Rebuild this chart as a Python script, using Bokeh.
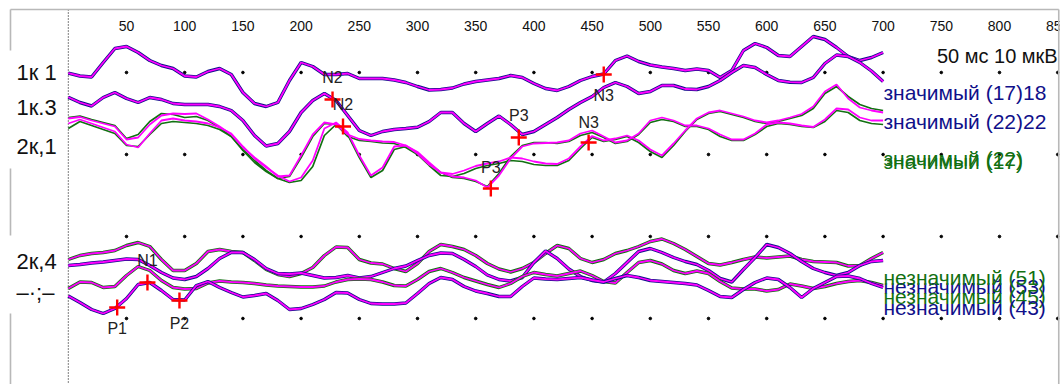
from bokeh.plotting import figure
from bokeh.models import Range1d
from bokeh.core.properties import value
from bokeh.embed import file_html
from bokeh.resources import INLINE

FONT = "Liberation Sans"
NAVY = "#10108a"
GREEN = "#127012"
MAG = "#ff00ff"

# sampling grid, ms
t_ms = list(range(0, 701, 10))

# vertical position of each curve (reference rows, larger = lower)
ch_1k1 = [72.7, 75.5, 76.5, 62, 48, 46, 52, 60, 65, 68, 75.5, 76.5, 71, 68, 74, 92, 103, 106, 102, 80,
          62, 66, 74, 74, 73, 78, 78, 78, 79.5, 82, 86, 89.5, 89, 87.5, 83.5, 81, 79.5, 78, 75, 77,
          83, 88, 90, 86, 80, 76, 73.5, 60, 55.5, 61, 64.5, 66.5, 68, 70, 68.5, 70, 77, 70, 50, 43,
          47, 55, 56, 46, 36, 39, 47, 56, 60, 57, 52]
ch_1k3 = [96.7, 102, 105.5, 97, 92, 98, 102, 97, 99, 103, 104, 104, 104, 106, 110, 120, 135, 145.5, 143, 131,
          112, 100, 93, 100, 115, 130, 135, 131, 129, 128, 126.7, 121, 112, 112, 123, 131, 123, 115.5, 124, 134,
          131, 124, 117, 109, 102, 96, 87, 82, 86, 93, 91, 85, 85, 88.5, 89, 86, 80, 72, 65, 67,
          74, 80, 81.7, 82, 77, 63, 54.5, 56, 62, 70.5, 81]
ch_2k1_a_mag = [118, 116.5, 120, 123, 126, 139, 137, 124, 115, 113, 113.5, 113, 119, 126, 134, 147, 157, 166, 176, 175,
                155, 134, 122, 124, 134, 138.5, 140, 141, 141.5, 145, 151.5, 162, 172, 173.5, 170, 165.5, 163, 161, 157, 158,
                161, 163, 163.5, 158, 146, 135.5, 140, 138, 135, 140, 149, 155, 143, 130, 118, 112, 110, 113, 116, 120,
                122, 120, 117, 113.5, 106, 91, 84, 98, 107, 110, 112]
ch_2k1_a_grn = [117, 115.5, 119, 122, 125, 138, 134, 121, 113, 114, 117, 116, 120, 127, 136, 149, 160, 170, 178, 176,
                157, 136, 123, 124, 136, 140, 141, 142.5, 143, 147, 154, 165, 175, 176, 173, 168, 165, 163, 160, 161,
                164, 165, 165, 160, 148, 137, 141, 139, 136, 142, 151, 157, 145, 131, 119, 113, 111, 114, 117, 121,
                123, 121, 118, 115, 108, 93, 86, 96, 104, 108, 110]
ch_2k1_b_mag = [123, 119, 123, 127, 131, 144, 147, 133, 120, 118, 120, 121, 123, 127, 133, 146, 158, 167, 175, 181,
                177, 160, 128, 122, 132, 155, 175, 167, 146, 145, 153, 164, 172, 176, 177, 180, 187, 175, 158, 146,
                143, 142.5, 142, 140, 133, 130, 136, 142, 140, 133, 120, 117, 120, 125, 125, 128, 134, 139, 139, 133,
                124, 122, 123, 125, 126.5, 119, 108, 109, 117, 120, 120]
ch_2k1_b_grn = [128, 121, 125, 129, 133, 145, 146, 134, 123, 121, 122, 123, 125, 129, 136, 150, 162, 171, 178, 182,
                180, 166, 135, 124, 134, 157, 177, 170, 149, 146, 152, 163, 172, 177, 178, 181, 186, 173, 156, 145,
                142, 142, 143, 141, 135, 132, 137, 143, 141, 134, 122, 119, 121, 126, 126, 129, 136, 140, 140, 134,
                126, 123, 124, 126, 127, 121, 110, 112, 120, 123, 124]
ch_ns_1 = [259, 255, 253, 252, 250, 245, 242, 246, 259, 270, 270, 263, 251, 249, 251, 252, 260, 269, 274, 276,
           273, 267, 255, 246.5, 247, 259, 262.5, 263.5, 268, 271, 263, 251, 244, 246, 249, 255, 263, 268.5, 271.5, 268,
           262, 253, 245, 248, 258, 262, 259, 253, 250, 246, 241, 238.5, 243, 249, 256, 263, 264.5, 262, 259, 256.5,
           257.5, 256.5, 255.5, 259, 261, 261.5, 262, 265.5, 265, 258, 252]
ch_ns_2 = [265, 264, 262.5, 261.5, 260, 258.5, 259, 265, 272, 277.5, 279, 276, 268, 258, 252, 252, 259, 268, 273, 273.5,
           272.5, 275, 277.5, 277, 275, 277.5, 276, 272, 268, 265.5, 260, 255, 252.5, 253, 259, 266, 274.5, 279, 280.5, 277,
           262, 250.5, 258, 268.5, 276, 280, 281.5, 273, 262, 251, 248, 252, 257, 261, 264, 270, 278, 281.5, 269, 257,
           244, 247, 253, 261, 268, 272, 275, 272, 265, 261, 260]
ch_ns_3 = [288, 281.5, 282, 287, 286, 275, 266, 270, 280, 287, 288.5, 288, 282.5, 280.5, 281.5, 282, 283, 284.5, 285.5, 286,
           286.5, 286.5, 285.5, 281.5, 279, 278.5, 279, 281.5, 285, 285.5, 279, 271, 268, 272, 277, 280.5, 284, 287, 283, 276,
           272, 274, 275.5, 273, 270.5, 275, 281, 282.5, 272, 262, 260, 263.5, 270, 273, 270.5, 273, 281, 287.5, 288.5, 288.5,
           290.5, 289, 283.5, 285.5, 288, 286, 283, 281, 280, 282, 285]
ch_ns_4 = [295.5, 302, 309, 313, 308, 298, 284, 282, 290, 299, 299.5, 285, 281, 287, 292, 296.5, 295, 293, 300, 309,
           308, 304, 299, 292, 292.5, 299, 303, 303.5, 303.5, 302.5, 293, 283, 277, 279, 286, 290.5, 293, 296, 296, 286,
           277.5, 278.5, 279, 278, 277, 279.5, 281.5, 278, 275, 277, 280, 281, 282, 283, 284.5, 290, 296, 297, 289, 282,
           277.5, 279, 287, 297, 288, 282, 276, 275.5, 278, 283, 287]

peak_names = ["P1", "N1", "P2", "N2", "N2", "P3", "P3", "N3", "N3"]
peak_lat = [42, 68, 95.5, 227, 236, 363, 387, 447, 460]
peak_amp = [307, 282, 300, 99, 126, 188, 137, 142, 74]
peak_label_dy = [21, -22, 23, -22, -22, -21, -22, -20, 21]

tick_ms = list(range(50, 851, 50))
tick_labels = [str(v) for v in tick_ms]
grid_rows = [72, 154, 236, 318]

channel_labels = ["1к 1", "1к.3", "2к,1", "2к,4", "–·;–"]
channel_rows = [72, 107, 146, 261, 292]

scale_text = "50 мс 10 мкВ"
sig_texts = ["значимый (17)18", "значимый (22)22", "значимый (22)", "значимый (17)"]
sig_colors = [NAVY, NAVY, GREEN, GREEN]
sig_rows = [92, 121, 158, 161]
ns_texts = ["незначимый (53)", "незначимый (45)", "незначимый (51)", "незначимый (43)"]
ns_colors = [NAVY, GREEN, GREEN, NAVY]
ns_rows = [286, 296, 277, 307]

X0 = -58.25
X1 = 852.4
p = figure(width=1060, height=384, x_range=Range1d(X0, X1), y_range=Range1d(384, 0),
           output_backend="svg", toolbar_location=None, min_border=0,
           x_axis_location=None, y_axis_location=None)
p.grid.visible = False
p.outline_line_color = None
p.background_fill_color = "white"

XL = -49.66   # left frame line
XR = 850.9    # right frame line

# grid dots
dx, dy = [], []
for r in grid_rows:
    for v in tick_ms:
        dx.append(v)
        dy.append(r)
p.scatter(dx, dy, size=2.6, color="black", marker="circle")

# zero line
p.segment(x0=[0], y0=[9], x1=[0], y1=[384], line_color="black", line_width=1, line_dash="1 2")

# traces
def pair(under, under_color, over):
    p.line(t_ms, under, line_color=under_color, line_width=3.4)
    p.line(t_ms, over, line_color=MAG, line_width=1.8)

pair(ch_1k1, NAVY, ch_1k1)
pair(ch_1k3, NAVY, ch_1k3)
p.line(t_ms, ch_2k1_a_grn, line_color=GREEN, line_width=1.7)
p.line(t_ms, ch_2k1_b_grn, line_color=GREEN, line_width=1.7)
p.line(t_ms, ch_2k1_a_mag, line_color=MAG, line_width=1.8)
p.line(t_ms, ch_2k1_b_mag, line_color=MAG, line_width=1.8)
pair(ch_ns_1, GREEN, ch_ns_1)
pair(ch_ns_2, NAVY, ch_ns_2)
pair(ch_ns_3, GREEN, ch_ns_3)
pair(ch_ns_4, NAVY, ch_ns_4)

# peaks
p.scatter(peak_lat, peak_amp, marker="cross", size=16, line_width=2.4, line_color="#ff0000")
p.text(x=peak_lat, y=[a + d for a, d in zip(peak_amp, peak_label_dy)], text=peak_names,
       text_font=value(FONT), text_font_size="16px", text_color="#222222",
       text_align="center", text_baseline="middle")

# tick labels
p.text(x=tick_ms, y=[25] * len(tick_ms), text=tick_labels, text_font=value(FONT),
       text_font_size="14px", text_color="#111111", text_align="center", text_baseline="middle")

# legends
p.text(x=[850], y=[55], text=[scale_text], text_font=value(FONT), text_font_size="20px",
       text_color="#111111", text_align="right", text_baseline="middle")
p.text(x=[700.3] * 4, y=sig_rows, text=sig_texts, text_color=sig_colors, text_font=value(FONT),
       text_font_size="21px", text_align="left", text_baseline="middle")
p.text(x=[700.3] * 4, y=ns_rows, text=ns_texts, text_color=ns_colors, text_font=value(FONT),
       text_font_size="21px", text_align="left", text_baseline="middle")

# channel labels
p.text(x=[-44.5], y=channel_rows[:1], text=channel_labels[:1], text_font=value(FONT),
       text_font_size="22px", text_color="#111111", text_align="left", text_baseline="middle")
p.quad(left=[-49], right=[-1], top=[50], bottom=[64], fill_color="white", line_color=None)
p.text(x=[-44.5] * 4, y=channel_rows[1:], text=channel_labels[1:], text_font=value(FONT),
       text_font_size="22px", text_color="#111111", text_align="left", text_baseline="middle")

# frame
p.quad(left=[851.6], right=[870], top=[0], bottom=[400], fill_color="white", line_color=None)
GRAY = "#b8b8b8"
p.segment(x0=[XL, XR], y0=[9, 9], x1=[XR, XR], y1=[9, 384], line_color=GRAY, line_width=1.6)
p.segment(x0=[XL] * 3, y0=[9, 168, 313], x1=[XL] * 3, y1=[50, 235, 384], line_color=GRAY, line_width=1.6)

open("out.html", "w").write(file_html(p, INLINE))
